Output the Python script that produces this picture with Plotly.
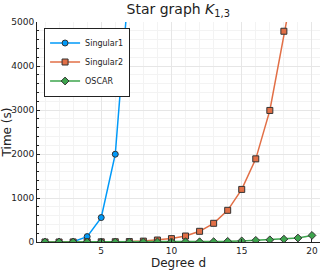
import plotly.graph_objects as go

d1 = [1, 2, 3, 4, 5, 6, 7]
singular1 = [0, 0, 5, 123, 555, 1995, 6000]
d2 = list(range(1, 20))
singular2 = [0, 0, 1, 2, 4, 6, 10, 20, 45, 77, 136, 243, 425, 720, 1195, 1890, 2990, 4790, 6400]
d3 = list(range(1, 21))
oscar = [0, 0, 0, 0, 0, 1, 1, 2, 3, 4, 5, 6, 8, 15, 25, 38, 50, 65, 90, 150]

names = ["Singular1", "Singular2", "OSCAR"]
colors = ["#009af9", "#e26f46", "#3da44d"]
symbols = ["circle", "square", "diamond"]
xs = [d1, d2, d3]
ys = [singular1, singular2, oscar]

fig = go.Figure()
for name, c, s, x, y in zip(names, colors, symbols, xs, ys):
    fig.add_trace(go.Scatter(
        x=x, y=y, name=name, mode="lines+markers",
        line=dict(color=c, width=1.5),
        marker=dict(symbol=s, size=6, color=c,
                    line=dict(color="#333333", width=1)),
        cliponaxis=True,
    ))

axis_common = dict(
    showline=True, linecolor="#222222", linewidth=1,
    ticks="inside", ticklen=3, tickcolor="#222222",
    showgrid=True, gridcolor="#e6e6e6", gridwidth=1,
    zeroline=False, mirror=False, automargin=False,
    tickfont=dict(family="DejaVu Sans", size=9, color="#222222"),
)

fig.update_xaxes(
    range=[0.43, 20.57], tickvals=[5, 10, 15, 20],
    minor=dict(dtick=1, tick0=0, showgrid=True, gridcolor="#f3f3f3", ticks=""),
    title=dict(text="Degree d", font=dict(family="DejaVu Sans", size=12, color="#222222"), standoff=3),
    **axis_common,
)
fig.update_yaxes(
    range=[0, 5000], tickvals=[0, 1000, 2000, 3000, 4000, 5000],
    minor=dict(dtick=200, tick0=0, showgrid=True, gridcolor="#f3f3f3", ticks="inside", ticklen=2, tickcolor="#222222"),
    title=dict(text="Time (s)", font=dict(family="DejaVu Sans", size=12, color="#222222"), standoff=4),
    **axis_common,
)

fig.update_layout(
    width=327, height=273,
    margin=dict(l=37, r=7, t=22, b=31),
    paper_bgcolor="white", plot_bgcolor="white",
    title=dict(text="Star graph <i>K</i><sub>1,3</sub>", x=0.545, xanchor="center", y=0.965, yanchor="middle",
               font=dict(family="DejaVu Sans", size=14, color="#222222")),
    legend=dict(x=0.025, y=0.975, xanchor="left", yanchor="top",
                bgcolor="white", bordercolor="#222222", borderwidth=1,
                font=dict(family="DejaVu Sans", size=8, color="#222222"),
                itemwidth=30, tracegroupgap=0),
    showlegend=True,
)

fig.write_html("out.html", config={"displayModeBar": False},
               post_script="document.body.style.margin='0';document.body.style.overflow='hidden';")
